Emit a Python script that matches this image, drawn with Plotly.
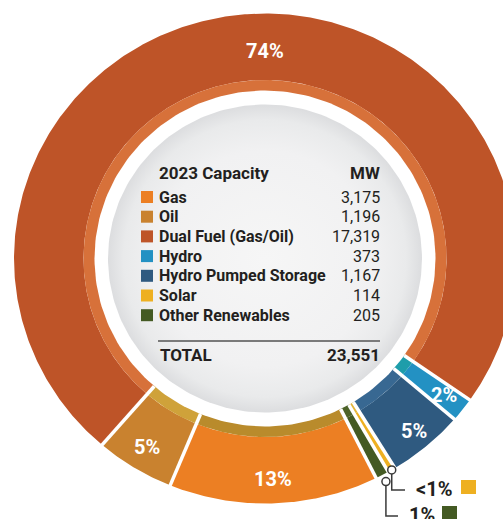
import numpy as np
import plotly.graph_objects as go

# 2023 installed capacity by fuel type (MW)
sources = ["Gas", "Oil", "Dual Fuel (Gas/Oil)", "Hydro",
           "Hydro Pumped Storage", "Solar", "Other Renewables"]
capacity_mw = [3175, 1196, 17319, 373, 1167, 114, 205]
total_mw = 23551

colors = ["#EC7F23", "#C9822F", "#BE5428", "#2391C3", "#2F5A80", "#EEB021", "#445A23"]
band_colors = ["#B98B2C", "#CFA23A", "#D7713A", "#1E9DAA", "#386892", "#E3B53A", "#4D6329"]

# clockwise order round the ring, starting from Dual Fuel
ring_order = [2, 3, 4, 5, 6, 0, 1]
start_angle = 220.5  # degrees, clockwise from 12 o'clock

# ring geometry (pixels, x stretched a little like the original artwork)
CX, CY = 265, 258.5
R_OUT = (251, 245)
R_BAND = (181.5, 178.5)
R_WHITE = (170.5, 168)
R_GREY = (157, 154)

W, H = 503, 519
TEXT = "#231F20"


def ellipse(theta, r):
    t = np.radians(theta)
    return CX + r[0] * np.sin(t), CY - r[1] * np.cos(t)


def arc_band(a0, a1, r_out, r_in):
    t = np.linspace(a0, a1, max(int(abs(a1 - a0) * 2), 4))
    xo, yo = ellipse(t, r_out)
    xi, yi = ellipse(t[::-1], r_in)
    return np.concatenate([xo, xi, xo[:1]]), np.concatenate([yo, yi, yo[:1]])


pct = [v / total_mw * 100 for v in capacity_mw]
vals = [capacity_mw[i] for i in ring_order]
edges = start_angle + 360 * np.concatenate([[0], np.cumsum(vals)]) / sum(vals)

fig = go.Figure()

# main ring and its thin inner band
for k, i in enumerate(ring_order):
    a0, a1 = edges[k], edges[k + 1]
    x, y = arc_band(a0, a1, R_OUT, R_BAND)
    fig.add_trace(go.Scatter(x=x, y=y, mode="lines", fill="toself",
                             fillcolor=colors[i], line=dict(width=0),
                             hoverinfo="skip", showlegend=False))
    x, y = arc_band(a0, a1, R_BAND, (R_WHITE[0] - 3, R_WHITE[1] - 3))
    fig.add_trace(go.Scatter(x=x, y=y, mode="lines", fill="toself",
                             fillcolor=band_colors[i], line=dict(width=0),
                             hoverinfo="skip", showlegend=False))

# white separators between slices
sx, sy = [], []
for a in edges[:-1]:
    x0, y0 = ellipse(a, R_WHITE)
    x1, y1 = ellipse(a, (R_OUT[0] + 6, R_OUT[1] + 6))
    sx += [x0, x1, None]
    sy += [y0, y1, None]
fig.add_trace(go.Scatter(x=sx, y=sy, mode="lines", line=dict(color="white", width=3.5),
                         hoverinfo="skip", showlegend=False))

# white rim and grey centre disk
t = np.linspace(0, 360, 241)
x, y = ellipse(t, R_WHITE)
fig.add_trace(go.Scatter(x=x, y=y, mode="lines", fill="toself", fillcolor="white",
                         line=dict(width=0), hoverinfo="skip", showlegend=False))
x, y = ellipse(t, R_GREY)
fig.add_trace(go.Scatter(x=x, y=y, mode="lines", fill="toself",
                         fillgradient=dict(type="radial",
                                           colorscale=[[0, "#F6F6F6"], [0.7, "#F1F1F2"],
                                                       [0.9, "#E9EAEB"], [1, "#DCDDDF"]]),
                         line=dict(width=0), hoverinfo="skip", showlegend=False))

# percentage labels inside the ring
label_r = {"Dual Fuel (Gas/Oil)": 0.845, "Hydro": 0.905, "Hydro Pumped Storage": 0.92}
label_angle = {"Dual Fuel (Gas/Oil)": 0}
callouts = {"Solar": (1.0, 490, 405), "Other Renewables": (1.03, 516, 398)}
for k, i in enumerate(ring_order):
    name = sources[i]
    mid = (edges[k] + edges[k + 1]) / 2
    text = "<1%" if round(pct[i]) < 1 else f"{round(pct[i])}%"
    if name in callouts:
        rf, ly, lx = callouts[name]
        px, py = ellipse(mid, (R_OUT[0] * rf, R_OUT[1] * rf))
        fig.add_trace(go.Scatter(x=[px, px, lx], y=[py, ly, ly], mode="lines",
                                 line=dict(color="#3A3A3A", width=1.5),
                                 hoverinfo="skip", showlegend=False))
        fig.add_trace(go.Scatter(x=[px], y=[py], mode="markers",
                                 marker=dict(size=8, color="white",
                                             line=dict(color="#3A3A3A", width=1.5)),
                                 hoverinfo="skip", showlegend=False))
        fig.add_annotation(x=lx + 9, y=ly - 1, text=f"<b>{text}</b>", showarrow=False,
                           xanchor="left", yanchor="middle",
                           font=dict(family="Roboto", size=20, color=TEXT))
        tw = 40 if text.startswith("<") else 28
        fig.add_shape(type="rect", x0=lx + 11 + tw + 5, x1=lx + 11 + tw + 20,
                      y0=ly - 10, y1=ly + 4, fillcolor=colors[i], line=dict(width=0))
        continue
    ang = label_angle.get(name, mid)
    rf = label_r.get(name, 0.9)
    lx, ly = ellipse(ang, (R_OUT[0] * rf, R_OUT[1] * rf))
    fig.add_annotation(x=lx, y=ly, text=f"<b>{text}</b>", showarrow=False,
                       font=dict(family="Roboto", size=20, color="white"))

# table in the middle
x_name, x_val, x_box = 157, 382, 141
fig.add_annotation(x=x_name, y=173, text="<b>2023 Capacity</b>", showarrow=False,
                   xanchor="left", font=dict(family="Roboto", size=17, color=TEXT))
fig.add_annotation(x=x_val, y=173, text="<b>MW</b>", showarrow=False,
                   xanchor="right", font=dict(family="Roboto", size=17, color=TEXT))
row_y0, row_dy = 197, 19.7
for i, name in enumerate(sources):
    ry = row_y0 + i * row_dy
    fig.add_shape(type="rect", x0=x_box, x1=x_box + 12, y0=ry - 6, y1=ry + 6,
                  fillcolor=colors[i], line=dict(width=0))
    fig.add_annotation(x=x_name, y=ry, text=f"<b>{name}</b>", showarrow=False,
                       xanchor="left", font=dict(family="Roboto", size=16, color=TEXT))
    fig.add_annotation(x=x_val, y=ry, text=f"{capacity_mw[i]:,}", showarrow=False,
                       xanchor="right", font=dict(family="Roboto", size=16, color=TEXT))

fig.add_shape(type="line", x0=158, x1=380, y0=341, y1=341,
              line=dict(color="#7A7A7A", width=2))
fig.add_annotation(x=x_name + 1, y=355, text="<b>TOTAL</b>", showarrow=False,
                   xanchor="left", font=dict(family="Roboto", size=17, color=TEXT))
fig.add_annotation(x=x_val, y=355, text=f"<b>{total_mw:,}</b>", showarrow=False,
                   xanchor="right", font=dict(family="Roboto", size=17, color=TEXT))

fig.update_layout(
    width=W, height=H,
    margin=dict(l=0, r=0, t=0, b=0),
    paper_bgcolor="white", plot_bgcolor="white",
    xaxis=dict(range=[0, W], visible=False, fixedrange=True),
    yaxis=dict(range=[H, 0], visible=False, fixedrange=True),
    showlegend=False,
)

# drop the default page margin so the figure sits flush in the window
fig.write_html("out.html", config={"displayModeBar": False},
               post_script="document.body.style.margin='0';document.body.style.overflow='hidden';")
